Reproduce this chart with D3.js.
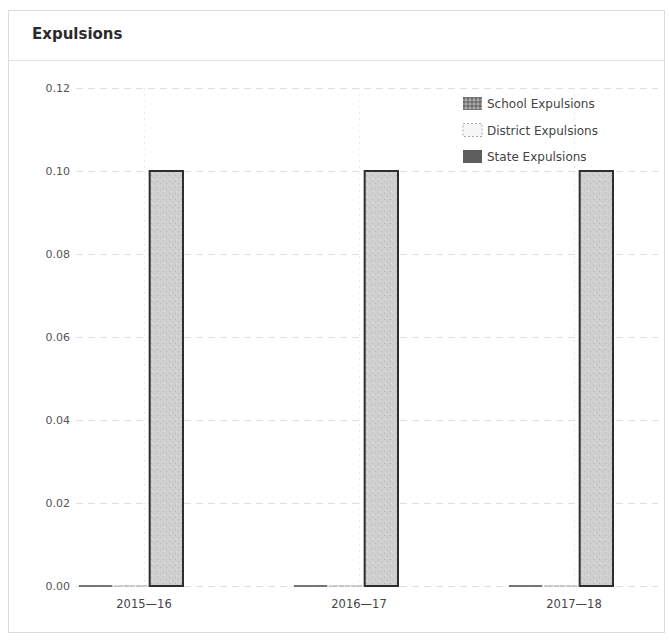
<!DOCTYPE html>
<html>
<head>
<meta charset="utf-8">
<script src="https://cdn.jsdelivr.net/npm/d3@7"></script>
<style>
  html, body { margin: 0; padding: 0; background: #fff; }
  svg { display: block; }
</style>
</head>
<body>
<svg id="chart" width="669" height="643"></svg>
<script>
// Expulsion rates by school year
const years = ["2015\u201416", "2016\u201417", "2017\u201418"];
const seriesNames = ["School Expulsions", "District Expulsions", "State Expulsions"];
const schoolValues = [0, 0, 0];
const districtValues = [0, 0, 0];
const stateValues = [0.10, 0.10, 0.10];
const yTicks = [0, 0.02, 0.04, 0.06, 0.08, 0.10, 0.12];

const seriesValues = [schoolValues, districtValues, stateValues];
const rows = years.map((y, i) => ({
  year: y,
  values: seriesNames.map((s, k) => ({ key: s, value: seriesValues[k][i] }))
}));

const svg = d3.select("#chart");

// textures
const defs = svg.append("defs");
const pState = defs.append("pattern").attr("id", "texState")
  .attr("patternUnits", "userSpaceOnUse").attr("width", 6).attr("height", 6);
pState.append("rect").attr("width", 6).attr("height", 6).attr("fill", "#cfcfcf");
pState.append("rect").attr("x", 1).attr("y", 1).attr("width", 1).attr("height", 1).attr("fill", "#b4b4b4");
pState.append("rect").attr("x", 4).attr("y", 3).attr("width", 1).attr("height", 1).attr("fill", "#bdbdbd");
pState.append("rect").attr("x", 2).attr("y", 5).attr("width", 1).attr("height", 1).attr("fill", "#e2e2e2");

const pSchool = defs.append("pattern").attr("id", "texSchool")
  .attr("patternUnits", "userSpaceOnUse").attr("width", 4).attr("height", 4);
pSchool.append("rect").attr("width", 4).attr("height", 4).attr("fill", "#8a8a8a");
pSchool.append("rect").attr("x", 0).attr("y", 0).attr("width", 2).attr("height", 2).attr("fill", "#6a6a6a");
pSchool.append("rect").attr("x", 2).attr("y", 2).attr("width", 2).attr("height", 2).attr("fill", "#a8a8a8");

// panel
svg.append("rect").attr("x", 8.5).attr("y", 10.5).attr("width", 656).attr("height", 622)
  .attr("fill", "#fff").attr("stroke", "#dcdcdc");
svg.append("line").attr("x1", 9).attr("x2", 664).attr("y1", 60.5).attr("y2", 60.5)
  .attr("stroke", "#e2e2e2");
svg.append("text").attr("x", 32).attr("y", 39)
  .attr("font-family", "DejaVu Sans, sans-serif").attr("font-weight", "bold")
  .attr("font-size", 15).attr("fill", "#2b2b2b").text("Expulsions");

// scales
const plotLeft = 76, plotRight = 658, plotTop = 88, plotBottom = 586;
const y = d3.scaleLinear().domain([0, 0.12]).range([plotBottom, plotTop]);
const x0 = d3.scaleBand().domain(years).range([78, 640])
  .paddingInner(1 - 132 / 215).paddingOuter(0);
const x1 = d3.scaleBand().domain(seriesNames).range([0, 106]).padding(0);

// grid
const grid = svg.append("g");
grid.selectAll("line.h").data(yTicks).join("line")
  .attr("x1", plotLeft).attr("x2", plotRight)
  .attr("y1", d => Math.round(y(d)) + 0.5).attr("y2", d => Math.round(y(d)) + 0.5)
  .attr("stroke", "#dedede").attr("stroke-dasharray", "7,5");
grid.selectAll("line.v").data(years).join("line")
  .attr("x1", d => Math.round(x0(d) + x0.bandwidth() / 2) + 0.5)
  .attr("x2", d => Math.round(x0(d) + x0.bandwidth() / 2) + 0.5)
  .attr("y1", plotTop).attr("y2", plotBottom)
  .attr("stroke", "#ededed").attr("stroke-dasharray", "2,4");

// y axis labels
const yAxis = d3.axisLeft(y).tickValues(yTicks).tickFormat(d3.format(".2f")).tickSize(0).tickPadding(6);
const gy = svg.append("g").attr("transform", `translate(${plotLeft},0)`).call(yAxis);
gy.select(".domain").remove();
gy.selectAll("text").attr("font-family", "DejaVu Sans, sans-serif").attr("font-size", 11)
  .attr("fill", "#555");

// x axis labels
const xAxis = d3.axisBottom(x0).tickSize(0).tickPadding(14);
const gx = svg.append("g").attr("transform", `translate(0,${plotBottom})`).call(xAxis);
gx.select(".domain").remove();
gx.selectAll("text").attr("font-family", "DejaVu Sans, sans-serif").attr("font-size", 11.5)
  .attr("fill", "#444");

// bars (drawn as paths so zero-height bars still show their baseline stroke)
const fills = { "School Expulsions": "url(#texSchool)", "District Expulsions": "#f4f4f4", "State Expulsions": "url(#texState)" };
const strokes = { "School Expulsions": "#4a4a4a", "District Expulsions": "#b8b8b8", "State Expulsions": "#2e2e2e" };
const dashes = { "School Expulsions": null, "District Expulsions": "3,3", "State Expulsions": null };

const groups = svg.append("g").selectAll("g").data(rows).join("g")
  .attr("transform", d => `translate(${x0(d.year)},0)`);
groups.selectAll("path").data(d => d.values).join("path")
  .attr("d", d => {
    const xl = x1(d.key) + 1, xr = x1(d.key) + x1.bandwidth() - 1;
    return `M${xl},${y(0)}V${y(d.value)}H${xr}V${y(0)}Z`;
  })
  .attr("fill", d => fills[d.key])
  .attr("stroke", d => strokes[d.key])
  .attr("stroke-width", d => d.key === "State Expulsions" ? 2 : 1.5)
  .attr("stroke-dasharray", d => dashes[d.key]);

// legend
const legendFills = { "School Expulsions": "url(#texSchool)", "District Expulsions": "#f6f6f6", "State Expulsions": "#5e5e5e" };
const legend = svg.append("g").attr("transform", "translate(463,97)");
const li = legend.selectAll("g").data(seriesNames).join("g")
  .attr("transform", (d, i) => `translate(0,${i * 26.5})`);
li.append("rect").attr("width", 19).attr("height", 13)
  .attr("fill", d => legendFills[d])
  .attr("stroke", d => d === "District Expulsions" ? "#aaa" : "none")
  .attr("stroke-dasharray", d => d === "District Expulsions" ? "2,2" : null);
li.append("text").attr("x", 24).attr("y", 11)
  .attr("font-family", "DejaVu Sans, sans-serif").attr("font-size", 12)
  .attr("fill", "#444").text(d => d);
</script>
</body>
</html>
